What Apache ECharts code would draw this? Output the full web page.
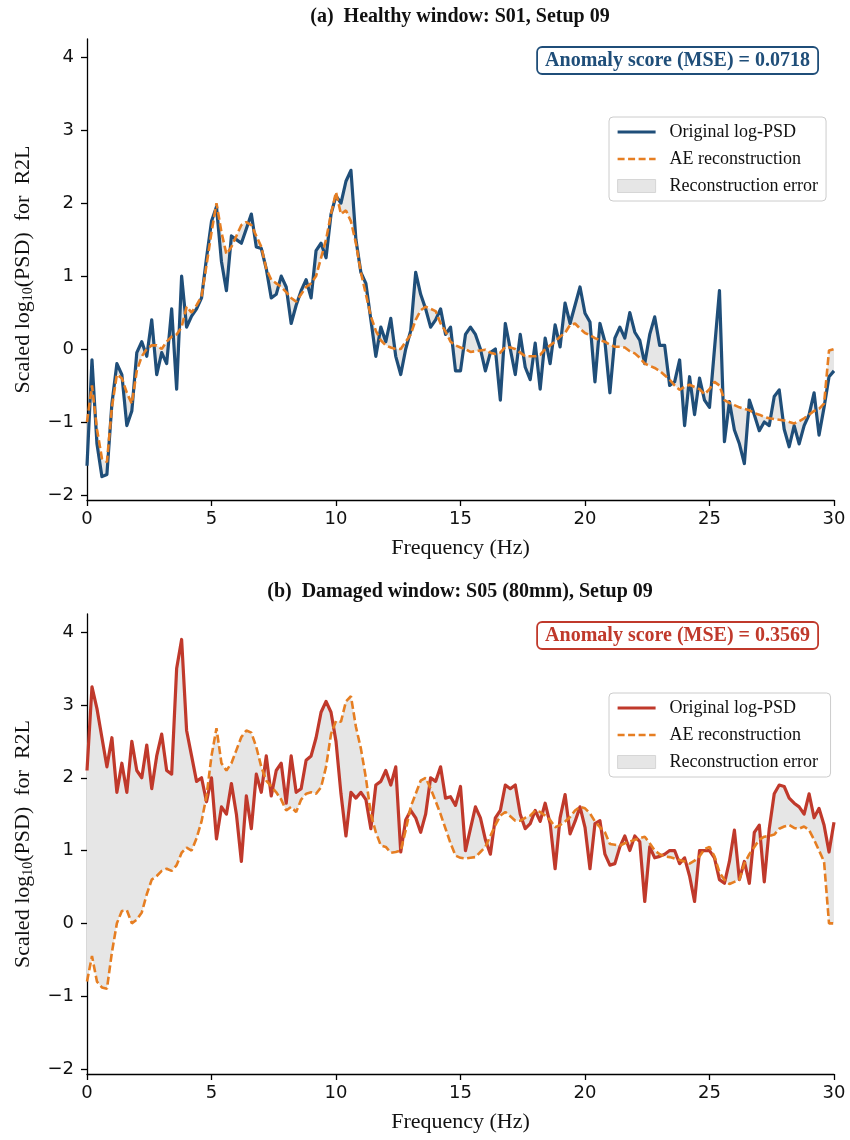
<!DOCTYPE html>
<html><head><meta charset="utf-8">
<script src="https://cdn.jsdelivr.net/npm/echarts@6/dist/echarts.min.js"></script>
<style>html,body{margin:0;padding:0;background:#fff}#c{width:850px;height:1140px}</style>
</head><body><div id="c"></div>
<script>
// Frequency grid (Hz): 0 .. 30 in 0.2 Hz bins
const FREQ_STEP = 0.2;
const FREQ = [];
for (let i = 0; i <= 150; i++) FREQ.push(Math.round(i * FREQ_STEP * 10) / 10);

// (a) Healthy window: S01, Setup 09  (one row per Hz: f, f+0.2, f+0.4, f+0.6, f+0.8)
const HEALTHY_ORIGINAL = [
  -1.6, -0.15, -1.3, -1.75, -1.72,
  -0.75, -0.2, -0.35, -1.05, -0.85,
  -0.05, 0.1, -0.1, 0.4, -0.35,
  -0.05, -0.2, 0.55, -0.55, 1.0,
  0.3, 0.45, 0.55, 0.7, 1.25,
  1.75, 1.95, 1.2, 0.8, 1.55,
  1.5, 1.45, 1.65, 1.85, 1.4,
  1.38, 1.1, 0.7, 0.75, 1.0,
  0.85, 0.35, 0.6, 0.8, 0.95,
  0.7, 1.35, 1.45, 1.25, 1.85,
  2.1, 2.0, 2.3, 2.45, 1.5,
  1.05, 0.9, 0.4, -0.1, 0.3,
  0.1, 0.42, -0.1, -0.35, 0.0,
  0.25, 1.05, 0.75, 0.55, 0.3,
  0.4, 0.55, 0.2, 0.3, -0.3,
  -0.3, 0.2, 0.3, 0.2, 0.0,
  -0.3, -0.05, 0.0, -0.7, 0.35,
  0.0, -0.35, 0.2, -0.25, -0.42,
  0.08, -0.55, 0.15, -0.2, 0.33,
  0.03, 0.63, 0.35, 0.6, 0.85,
  0.49, 0.37, -0.45, 0.35, 0.1,
  -0.6, 0.15, 0.3, 0.15, 0.5,
  0.23, 0.12, -0.2, 0.2, 0.44,
  0.05, 0.05, -0.5, -0.45, -0.15,
  -1.05, -0.38, -0.9, -0.4, -0.7,
  -0.8, 0.0, 0.8, -1.27, -0.72,
  -1.11, -1.3, -1.57, -0.7, -0.9,
  -1.12, -1.0, -1.05, -0.65, -0.56,
  -1.1, -1.34, -1.05, -1.3, -1.05,
  -0.9, -0.6, -1.18, -0.8, -0.38,
  -0.3
];
const HEALTHY_RECON = [
  -1.0, -0.5, -1.1, -1.5, -1.55,
  -0.8, -0.35, -0.4, -0.6, -0.75,
  -0.3, -0.1, 0.0, 0.05, 0.05,
  0.0, 0.1, 0.17, 0.2, 0.3,
  0.58, 0.5, 0.6, 0.72, 1.15,
  1.6, 2.0, 1.6, 1.3, 1.4,
  1.55, 1.7, 1.74, 1.7, 1.55,
  1.4, 1.1, 0.95, 0.9, 0.85,
  0.78, 0.7, 0.65, 0.75, 0.85,
  0.9, 1.0, 1.25, 1.5, 1.85,
  2.15, 1.85, 1.9, 1.75, 1.45,
  1.05, 0.75, 0.45, 0.25, 0.12,
  0.05, 0.02, 0.0, 0.0, 0.1,
  0.2, 0.4, 0.53, 0.58, 0.55,
  0.52, 0.35, 0.24, 0.1, 0.05,
  0.02, 0.0, -0.04, -0.03, -0.02,
  -0.01, -0.05, -0.07, -0.05, 0.03,
  0.02, 0.0, -0.05, -0.1, -0.1,
  -0.1, -0.08, 0.0, 0.05, 0.1,
  0.17, 0.22, 0.33, 0.35, 0.28,
  0.22, 0.19, 0.15, 0.12, 0.1,
  0.06, 0.03, 0.03, 0.02, -0.03,
  -0.06, -0.12, -0.2, -0.23, -0.26,
  -0.3, -0.36, -0.42, -0.5, -0.56,
  -0.52, -0.49, -0.52, -0.55, -0.62,
  -0.55, -0.45, -0.5, -0.7, -0.74,
  -0.77, -0.8, -0.82, -0.84, -0.88,
  -0.9, -0.93, -0.95, -0.96, -0.97,
  -0.98, -1.0, -1.02, -0.99, -0.95,
  -0.9, -0.85, -0.82, -0.75, -0.02,
  0.0
];

// (b) Damaged window: S05 (80mm), Setup 09
const DAMAGED_ORIGINAL = [
  2.1, 3.25, 2.95, 2.55, 2.15,
  2.55, 1.8, 2.2, 1.8, 2.5,
  2.1, 2.0, 2.45, 1.85, 2.3,
  2.6, 2.1, 2.05, 3.5, 3.9,
  2.65, 2.3, 1.95, 2.0, 1.67,
  2.0, 1.16, 1.6, 1.5, 1.92,
  1.5, 0.85, 1.75, 1.3, 2.05,
  1.8, 2.3, 1.75, 2.1, 2.2,
  1.65, 2.3, 1.8, 1.85, 2.24,
  2.3, 2.55, 2.9, 3.05, 2.9,
  2.5, 1.78, 1.2, 1.8, 1.72,
  1.8, 1.7, 1.3, 1.9, 1.95,
  2.1, 1.9, 2.15, 0.98, 1.42,
  1.55, 1.45, 1.25, 1.5, 2.0,
  1.95, 2.15, 1.72, 1.74, 1.62,
  1.88, 1.0, 1.3, 1.6, 1.45,
  1.15, 0.95, 1.45, 1.55, 1.9,
  1.85, 1.9, 1.5, 1.3, 1.37,
  1.55, 1.4, 1.65, 1.37, 0.75,
  1.45, 1.77, 1.23, 1.4, 1.6,
  1.32, 0.75, 1.37, 1.41, 0.95,
  0.8, 0.82, 1.05, 1.2, 1.0,
  1.2, 1.12, 0.3, 1.05, 0.9,
  0.92, 0.95, 1.0, 1.0, 0.82,
  0.9, 0.65, 0.3, 1.0, 1.0,
  1.0, 0.9, 0.6, 0.55, 0.85,
  1.28, 0.6, 0.85, 0.55, 1.25,
  1.35, 0.57, 1.3, 1.78, 1.9,
  1.88, 1.72, 1.65, 1.6, 1.5,
  1.78, 1.45, 1.58, 1.35, 0.98,
  1.39
];
const DAMAGED_RECON = [
  -0.8, -0.45, -0.8, -0.88, -0.9,
  -0.4, 0.0, 0.17, 0.18, 0.0,
  0.05, 0.15, 0.4, 0.6, 0.65,
  0.72, 0.75, 0.72, 0.8, 0.97,
  1.04, 1.0, 1.17, 1.4, 1.75,
  2.3, 2.68, 2.2, 2.1, 2.2,
  2.38, 2.56, 2.65, 2.62, 2.42,
  2.15, 1.96, 1.88, 1.8, 1.7,
  1.55, 1.6, 1.53, 1.7, 1.78,
  1.8, 1.78, 1.87, 2.15, 2.6,
  2.78, 2.77, 3.05, 3.12, 2.7,
  2.4, 2.0, 1.5, 1.25, 1.07,
  1.05, 0.97, 0.98, 1.0, 1.28,
  1.6, 1.78, 1.96, 2.0, 1.85,
  1.68, 1.5, 1.3, 1.1, 0.93,
  0.9, 0.89, 0.9, 0.91, 0.98,
  1.05, 1.2, 1.35, 1.48, 1.53,
  1.47, 1.41, 1.41, 1.45, 1.48,
  1.55, 1.53, 1.48, 1.42, 1.32,
  1.35, 1.4, 1.46, 1.55, 1.6,
  1.58, 1.51, 1.4, 1.32, 1.25,
  1.09, 1.08, 1.07, 1.1, 1.12,
  1.15, 1.17, 1.19, 1.1, 1.0,
  0.95, 0.92, 0.91, 0.89, 0.87,
  0.85, 0.82, 0.86, 0.92, 1.02,
  1.05, 0.92, 0.7, 0.6, 0.54,
  0.57, 0.6, 0.82, 0.95, 1.05,
  1.15, 1.19, 1.2, 1.22, 1.3,
  1.33, 1.35, 1.31, 1.3, 1.33,
  1.28, 1.15, 1.0, 0.85, 0.0,
  0.0
];

const X_TICKS = [0, 5, 10, 15, 20, 25, 30];
const Y_TICKS = [-2, -1, 0, 1, 2, 3, 4];
const PANEL_TITLES = ['(a)  Healthy window: S01, Setup 09', '(b)  Damaged window: S05 (80mm), Setup 09'];
const MSE_LABELS = ['Anomaly score (MSE) = 0.0718', 'Anomaly score (MSE) = 0.3569'];
const LEGEND_NAMES = ['Original log-PSD', 'AE reconstruction', 'Reconstruction error'];

const BLUE = '#1f4e79', RED = '#c0392b', ORANGE = '#e67e22', FILL = '#e6e6e6';
const SERIF = 'Liberation Serif', SANS = 'DejaVu Sans';

const chart = echarts.init(document.getElementById('c'), null, {renderer: 'canvas'});

function pairs(vals) { return FREQ.map((f, i) => [f, vals[i]]); }
function fillRenderer(orig, rec) {
  return function (params, api) {
    if (params.dataIndexInside > 0) return null;
    const pts = [];
    for (let i = 0; i < FREQ.length; i++) pts.push(api.coord([FREQ[i], orig[i]]));
    for (let i = FREQ.length - 1; i >= 0; i--) pts.push(api.coord([FREQ[i], rec[i]]));
    return {type: 'polygon', shape: {points: pts}, style: {fill: FILL, stroke: null}};
  };
}
const minus = v => (v < 0 ? '\u2212' + Math.abs(v) : String(v));

const grids = [
  {left: 87, right: 16, top: 39, height: 461},
  {left: 87, right: 16, top: 614, height: 460}
];
const xAxes = [0, 1].map(g => ({
  type: 'value', gridIndex: g, min: 0, max: 30, interval: 5,
  axisLine: {onZero: false, lineStyle: {color: '#000', width: 1.3}},
  axisTick: {length: 6, lineStyle: {color: '#000', width: 1.3}, customValues: X_TICKS},
  axisLabel: {fontFamily: SANS, fontSize: 18, color: '#111', margin: 10, customValues: X_TICKS},
  splitLine: {show: false},
  name: 'Frequency (Hz)', nameLocation: 'middle', nameGap: 37,
  nameTextStyle: {fontFamily: SERIF, fontSize: 22, color: '#111'}
}));
const yAxes = [0, 1].map(g => ({
  type: 'value', gridIndex: g, min: -2.07, max: 4.25,
  axisLine: {show: true, onZero: false, lineStyle: {color: '#000', width: 1.3}},
  axisTick: {show: true, length: 6, lineStyle: {color: '#000', width: 1.3}, customValues: Y_TICKS},
  axisLabel: {fontFamily: SANS, fontSize: 18, color: '#111', margin: 13, customValues: Y_TICKS, formatter: minus},
  splitLine: {show: false},
  name: '{a|Scaled log}{s|10}{a|(PSD)  for  R2L}', nameLocation: 'middle', nameGap: 52, nameRotate: 90,
  nameTextStyle: {rich: {
    a: {fontFamily: SERIF, fontSize: 22, color: '#111'},
    s: {fontFamily: SERIF, fontSize: 14, color: '#111', padding: [9, 0, 0, 0]}
  }}
}));

function panelSeries(g, orig, rec, color, suffix) {
  return [
    {type: 'custom', name: LEGEND_NAMES[2] + suffix, xAxisIndex: g, yAxisIndex: g, data: [[0, 0]],
     renderItem: fillRenderer(orig, rec), itemStyle: {color: FILL}, z: 1, silent: true, clip: true},
    {type: 'line', name: LEGEND_NAMES[0] + suffix, xAxisIndex: g, yAxisIndex: g, data: pairs(orig),
     symbol: 'none', showSymbol: false, lineStyle: {color: color, width: 3.2, join: 'round'}, itemStyle: {color: color}, z: 3},
    {type: 'line', name: LEGEND_NAMES[1] + suffix, xAxisIndex: g, yAxisIndex: g, data: pairs(rec),
     symbol: 'none', showSymbol: false, lineStyle: {color: ORANGE, width: 2.6, type: [8, 3.5]}, itemStyle: {color: ORANGE}, z: 4}
  ];
}

function legendFor(top, suffix, color) {
  return {
    orient: 'vertical', left: 609, top: top, selectedMode: false,
    itemWidth: 38, itemHeight: 13, itemGap: 9,
    padding: [6, 8, 6, 7],
    backgroundColor: 'rgba(255,255,255,0.85)', borderColor: '#cccccc', borderWidth: 1, borderRadius: 4,
    textStyle: {fontFamily: SERIF, fontSize: 18, color: '#111', padding: [0, 0, 0, 9]},
    data: [
      {name: LEGEND_NAMES[0] + suffix, itemStyle: {opacity: 0}, lineStyle: {color: color, width: 3.2}},
      {name: LEGEND_NAMES[1] + suffix, itemStyle: {opacity: 0}, lineStyle: {color: ORANGE, width: 2.6, type: [7, 3.5]}},
      {name: LEGEND_NAMES[2] + suffix, icon: 'rect', itemStyle: {color: FILL, borderColor: '#d6d6d6', borderWidth: 1}}
    ]
  };
}

function titleFor(text, top) {
  return {text: text, left: 460, top: top, textAlign: 'center', padding: 0,
    textStyle: {fontFamily: SERIF, fontWeight: 'bold', fontSize: 20, color: '#111'}};
}
function scoreBox(text, top, color) {
  return {text: text, right: 32, top: top, padding: [4, 8, 3, 8],
    borderColor: color, borderWidth: 1.8, borderRadius: 5, backgroundColor: '#fff',
    textStyle: {fontFamily: SERIF, fontWeight: 'bold', fontSize: 20, color: color}};
}

chart.setOption({
  animation: false,
  backgroundColor: '#fff',
  title: [
    titleFor(PANEL_TITLES[0], 7), titleFor(PANEL_TITLES[1], 582),
    scoreBox(MSE_LABELS[0], 47, BLUE), scoreBox(MSE_LABELS[1], 622, RED)
  ],
  legend: [legendFor(117, '', BLUE), legendFor(693, ' ', RED)],
  grid: grids,
  xAxis: xAxes,
  yAxis: yAxes,
  series: [].concat(
    panelSeries(0, HEALTHY_ORIGINAL, HEALTHY_RECON, BLUE, ''),
    panelSeries(1, DAMAGED_ORIGINAL, DAMAGED_RECON, RED, ' ')
  )
});
</script></body></html>
